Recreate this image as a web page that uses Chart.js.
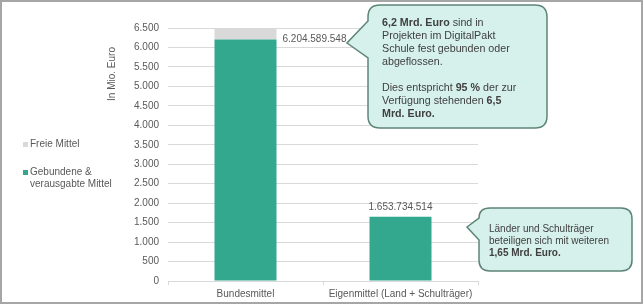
<!DOCTYPE html>
<html>
<head>
<meta charset="utf-8">
<script src="https://cdn.jsdelivr.net/npm/chart.js@4.4.1/dist/chart.umd.min.js"></script>
<style>
  body { margin: 0; background: #fff; }
  #wrap { position: relative; width: 644px; height: 306px; }
  #wrap canvas, #wrap svg { position: absolute; left: 0; top: 0; }
  svg text { font-family: "Liberation Sans", Arial, sans-serif; font-size: 10.7px; fill: #404040; }
  svg text.klein { font-size: 10px; }
</style>
</head>
<body>
<div id="wrap">
  <canvas id="myChart" width="644" height="306"></canvas>
  <svg width="644" height="306">
    <rect x="1" y="1" width="641" height="302" fill="none" stroke="#a6a6a6" stroke-width="2"/>
    <!-- Sprechblase oben -->
    <path d="M380,5 H535 Q547,5 547,17 V116 Q547,128 535,128 H380 Q368,128 368,116 V58 L347,43 L368,21 V17 Q368,5 380,5 Z"
          fill="#d6f1eb" stroke="#5e8577" stroke-width="1.5"/>
    <text x="382" y="26"><tspan font-weight="bold">6,2 Mrd. Euro</tspan> sind in</text>
    <text x="382" y="39">Projekten im DigitalPakt</text>
    <text x="382" y="52">Schule fest gebunden oder</text>
    <text x="382" y="65">abgeflossen.</text>
    <text x="382" y="91">Dies entspricht <tspan font-weight="bold">95 %</tspan> der zur</text>
    <text x="382" y="104">Verfügung stehenden <tspan font-weight="bold">6,5</tspan></text>
    <text x="382" y="117" font-weight="bold">Mrd. Euro.</text>
    <!-- Sprechblase unten -->
    <path d="M490,208 H621 Q632,208 632,219 V260 Q632,271 621,271 H490 Q479,271 479,260 V240 L467,227 L479,218 Q479,208 490,208 Z"
          fill="#d6f1eb" stroke="#5e8577" stroke-width="1.5"/>
    <text class="klein" x="489" y="232">Länder und Schulträger</text>
    <text class="klein" x="489" y="244">beteiligen sich mit weiteren</text>
    <text class="klein" x="489" y="256" font-weight="bold">1,65 Mrd. Euro.</text>
  </svg>
</div>
<script>
var kategorien = ["Bundesmittel", "Eigenmittel (Land + Schulträger)"];
// Werte in Euro
var gebunden = [6204589548, 1653734514];
var frei = [295410452, 0];
var legendeFrei = ["Freie Mittel"];
var legendeGebunden = ["Gebundene &", "verausgabte Mittel"];
var achsenTitel = "In Mio. Euro";

function punkte(n) {
  return String(n).replace(/\B(?=(\d{3})+(?!\d))/g, ".");
}

var font = "10px 'Liberation Sans', Arial, sans-serif";
var grau = "#595959";

var extras = {
  id: "extras",
  afterDatasetsDraw: function(chart) {
    var ctx = chart.ctx;
    ctx.save();
    ctx.font = font;
    ctx.fillStyle = grau;
    ctx.textBaseline = "middle";

    // Wertbeschriftungen
    var meta = chart.getDatasetMeta(1);
    var b0 = meta.data[0], b1 = meta.data[1];
    ctx.textAlign = "left";
    ctx.fillText(punkte(gebunden[0]), b0.x + b0.width / 2 + 6, b0.y);
    ctx.textAlign = "center";
    ctx.fillText(punkte(gebunden[1]), b1.x, b1.y - 9);

    // Achsentitel
    ctx.save();
    ctx.translate(112, 74);
    ctx.rotate(-Math.PI / 2);
    ctx.fillText(achsenTitel, 0, 0);
    ctx.restore();

    // Legende
    ctx.textAlign = "left";
    ctx.fillStyle = chart.data.datasets[0].backgroundColor;
    ctx.fillRect(23, 142, 5, 5);
    ctx.fillStyle = grau;
    legendeFrei.forEach(function(t, i) { ctx.fillText(t, 30, 144 + i * 12); });
    ctx.fillStyle = chart.data.datasets[1].backgroundColor;
    ctx.fillRect(23, 170, 5, 5);
    ctx.fillStyle = grau;
    legendeGebunden.forEach(function(t, i) { ctx.fillText(t, 30, 172 + i * 12); });
    ctx.restore();
  }
};

var ctx = document.getElementById("myChart");

var myChart = new Chart(ctx, {
  type: "bar",
  data: {
    labels: kategorien,
    datasets: [
      {
        label: "Freie Mittel",
        data: frei.map(function(v) { return v / 1e6; }),
        backgroundColor: "#d9d9d9",
        order: 2
      },
      {
        label: "Gebundene & verausgabte Mittel",
        data: gebunden.map(function(v) { return v / 1e6; }),
        backgroundColor: "#33a88f",
        order: 1
      }
    ]
  },
  plugins: [extras],
  options: {
    responsive: false,
    animation: false,
    layout: { padding: { top: 28, right: 166, bottom: 0, left: 0 } },
    plugins: { legend: { display: false }, tooltip: { enabled: false } },
    datasets: { bar: { categoryPercentage: 1, barPercentage: 0.4 } },
    scales: {
      x: {
        stacked: true,
        grid: { drawOnChartArea: false, color: "#d9d9d9", tickLength: 4 },
        border: { color: "#d9d9d9" },
        ticks: { color: grau, font: { family: "'Liberation Sans', Arial", size: 10 }, padding: 3, maxRotation: 0, autoSkip: false },
        afterFit: function(s) { s.height = 25; }
      },
      y: {
        stacked: true,
        min: 0,
        max: 6500,
        grid: { color: "#d9d9d9", drawTicks: false },
        border: { display: false },
        ticks: {
          stepSize: 500,
          padding: 9,
          color: grau,
          font: { family: "'Liberation Sans', Arial", size: 10 },
          callback: function(v) { return punkte(v); }
        },
        afterFit: function(s) { s.width = 168; }
      }
    }
  }
});
</script>
</body>
</html>
